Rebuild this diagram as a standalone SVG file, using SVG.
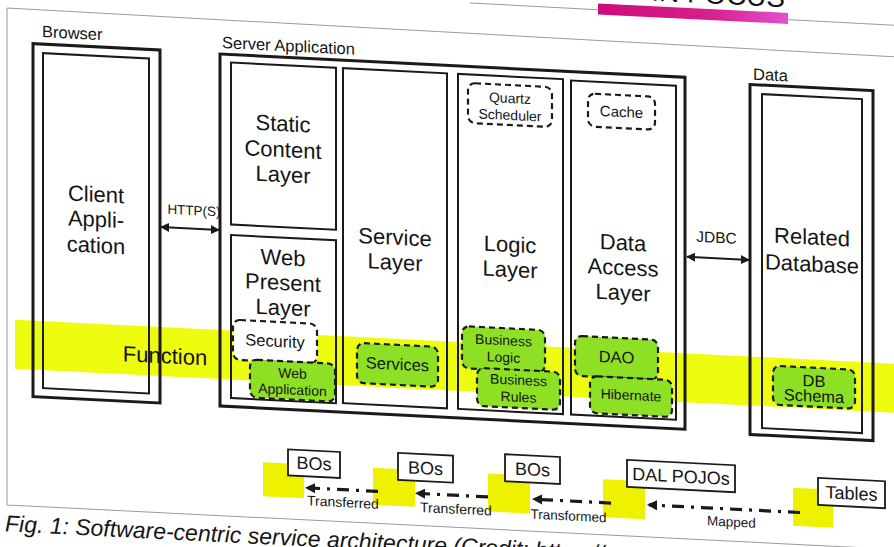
<svg xmlns="http://www.w3.org/2000/svg" width="894" height="547" viewBox="0 0 894 547">
<defs>
<style>
text{font-family:"Liberation Sans",Arial,sans-serif;fill:#151515}
.big{font-size:22px;text-anchor:middle}
.lbl{font-size:16.5px}
.sm{font-size:14px;text-anchor:middle}
.mid{font-size:16.5px;text-anchor:middle}
.outer{fill:none;stroke:#1a1a1a;stroke-width:3}
.inner{fill:none;stroke:#1a1a1a;stroke-width:2}
.dash{stroke:#1a1a1a;stroke-width:2.2;stroke-dasharray:6 4}
.grn{fill:#8ee024}
.wht{fill:#ffffff}
.sq{fill:#eef200}
.tag{fill:#ffffff;stroke:#1a1a1a;stroke-width:1.8}
.tagt{font-size:18px;text-anchor:middle}
.flow{fill:none;stroke:#1a1a1a;stroke-width:3.2;stroke-dasharray:12 7 3 7}
.biarrow{fill:none;stroke:#1a1a1a;stroke-width:2}
.frame{fill:none;stroke:#9a9a9a;stroke-width:1}
</style>
<marker id="ah" viewBox="0 0 10 10" refX="9" refY="5" markerWidth="4.5" markerHeight="4.5" orient="auto-start-reverse" markerUnits="strokeWidth">
<path d="M0,0 L10,5 L0,10 Z" fill="#1a1a1a"/>
</marker>
<marker id="fh" viewBox="0 0 10 10" refX="8" refY="5" markerWidth="3.2" markerHeight="3.2" orient="auto" markerUnits="strokeWidth">
<path d="M0,0 L10,5 L0,10 Z" fill="#1a1a1a"/>
</marker>
<linearGradient id="pink" x1="0" x2="1" y1="0" y2="0">
<stop offset="0" stop-color="#cc0c78"/>
<stop offset="0.6" stop-color="#d8208e"/>
<stop offset="1" stop-color="#e052cf"/>
</linearGradient>
</defs>
<rect x="0" y="0" width="894" height="547" fill="#ffffff"/>
<g transform="matrix(1,0.05,0,1,0,0)">
<!-- page frame and header -->
<g id="page">
<path class="frame" d="M7,7.6 L894,12 M7,7.6 L7,504.6 M7,504.6 L894,504.6"/>
<path class="frame" d="M470,-20.5 L894,-19.5"/>
<rect x="598" y="-26.5" width="190" height="11" fill="url(#pink)"/>
<text x="785" y="-32" style="font-size:28px;text-anchor:end">IN FOCUS</text>
</g>
<!-- function band -->
<g id="function-band">
<rect x="15" y="319" width="890" height="49" fill="#eefc10"/>
<text x="165" y="355" style="font-size:22px;text-anchor:middle">Function</text>
</g>
<!-- Browser -->
<g id="browser">
<text class="lbl" x="42" y="35">Browser</text>
<rect class="outer" x="33" y="42" width="127" height="353"/>
<rect class="inner" x="43" y="51" width="106" height="335"/>
<text class="big" x="96" y="197">Client</text>
<text class="big" x="96" y="222">Appli-</text>
<text class="big" x="96" y="248">cation</text>
</g>
<!-- Server -->
<g id="server">
<text class="lbl" x="222" y="37">Server Application</text>
<rect class="outer" x="220" y="43" width="465" height="352"/>
</g>
<g id="static-content">
<rect class="inner" x="231" y="51" width="105" height="162"/>
<text class="big" x="283" y="117">Static</text>
<text class="big" x="283" y="143">Content</text>
<text class="big" x="283" y="168">Layer</text>
</g>
<g id="web-present">
<rect class="inner" x="231" y="223.5" width="105" height="163"/>
<text class="big" x="283" y="251">Web</text>
<text class="big" x="283" y="276">Present</text>
<text class="big" x="283" y="301">Layer</text>
</g>
<g id="service-layer">
<rect class="inner" x="343" y="51" width="104" height="335"/>
<text class="big" x="395" y="225">Service</text>
<text class="big" x="395" y="250">Layer</text>
</g>
<g id="logic-layer">
<rect class="inner" x="458" y="51" width="105" height="335"/>
<text class="big" x="510" y="226.5">Logic</text>
<text class="big" x="510" y="251.5">Layer</text>
</g>
<g id="data-access">
<rect class="inner" x="571" y="52" width="105" height="334"/>
<text class="big" x="623" y="219">Data</text>
<text class="big" x="623" y="244">Access</text>
<text class="big" x="623" y="269">Layer</text>
</g>
<g id="quartz">
<rect class="dash wht" x="468" y="59.5" width="84" height="40" rx="7"/>
<text class="sm" x="510" y="77.5">Quartz</text>
<text class="sm" x="510" y="94.5">Scheduler</text>
</g>
<g id="cache">
<rect class="dash wht" x="588" y="64" width="67" height="33" rx="7"/>
<text x="621.5" y="86" style="font-size:15px;text-anchor:middle">Cache</text>
</g>
<!-- Data -->
<g id="data">
<text class="lbl" x="753" y="42">Data</text>
<rect class="outer" x="750" y="47" width="123" height="350"/>
<rect class="inner" x="762" y="56" width="100" height="334"/>
<text class="big" x="812" y="204">Related</text>
<text class="big" x="812" y="231">Database</text>
</g>
<!-- function components -->
<g id="security">
<rect class="dash wht" x="233" y="308" width="84" height="40" rx="7"/>
<text class="mid" x="275" y="333">Security</text>
</g>
<g id="web-application">
<rect class="dash grn" x="250" y="347" width="85" height="38" rx="7"/>
<text class="sm" x="292.5" y="363.5">Web</text>
<text class="sm" x="292.5" y="380">Application</text>
</g>
<g id="services">
<rect class="dash grn" x="357" y="325" width="81" height="40" rx="7"/>
<text class="mid" x="397.5" y="350">Services</text>
</g>
<g id="business-logic">
<rect class="dash grn" x="462" y="303" width="83" height="42" rx="7"/>
<text class="sm" x="503.5" y="320">Business</text>
<text class="sm" x="503.5" y="337">Logic</text>
</g>
<g id="business-rules">
<rect class="dash grn" x="477" y="344" width="83" height="38" rx="7"/>
<text class="sm" x="518.5" y="359">Business</text>
<text class="sm" x="518.5" y="376">Rules</text>
</g>
<g id="dao">
<rect class="dash grn" x="575" y="307" width="83" height="40" rx="7"/>
<text class="mid" x="616.5" y="332">DAO</text>
</g>
<g id="hibernate">
<rect class="dash grn" x="590" y="346.5" width="82" height="37" rx="7"/>
<text class="sm" x="631" y="368.5">Hibernate</text>
</g>
<g id="db-schema">
<rect class="dash grn" x="773" y="327" width="82" height="39" rx="7"/>
<text class="mid" x="814" y="346">DB</text>
<text class="mid" x="814" y="361">Schema</text>
</g>
<!-- bottom objects -->
<g id="bos-1">
<rect class="sq" x="263" y="449" width="41" height="34"/>
<rect class="tag" x="288" y="435" width="52" height="26"/>
<text class="tagt" x="314" y="454">BOs</text>
</g>
<g id="bos-2">
<rect class="sq" x="373" y="449" width="42" height="37"/>
<rect class="tag" x="398" y="433" width="55" height="27"/>
<text class="tagt" x="425.5" y="453">BOs</text>
</g>
<g id="bos-3">
<rect class="sq" x="488" y="449" width="42" height="38"/>
<rect class="tag" x="505" y="429" width="55" height="27"/>
<text class="tagt" x="532.5" y="449">BOs</text>
</g>
<g id="dal-pojos">
<rect class="sq" x="603" y="449" width="42" height="38"/>
<rect class="tag" x="627" y="428.5" width="108" height="27"/>
<text class="tagt" x="681" y="448.5">DAL POJOs</text>
</g>
<g id="tables">
<rect class="sq" x="793" y="448" width="40" height="38"/>
<rect class="tag" x="818" y="437" width="67" height="27"/>
<text class="tagt" x="851.5" y="457">Tables</text>
</g>
<!-- connectors -->
<g id="connectors">
<line class="biarrow" x1="161" y1="219" x2="219" y2="219" marker-start="url(#ah)" marker-end="url(#ah)"/>
<text x="194" y="205.5" style="font-size:13.5px;text-anchor:middle">HTTP(S)</text>
<line class="biarrow" x1="687" y1="222.5" x2="749" y2="222.5" marker-start="url(#ah)" marker-end="url(#ah)"/>
<text x="716.5" y="207" style="font-size:15.5px;text-anchor:middle">JDBC</text>
<line class="flow" x1="378" y1="472.5" x2="307" y2="472.5" marker-end="url(#fh)"/>
<text x="343" y="490" style="font-size:14px;text-anchor:middle">Transferred</text>
<line class="flow" x1="488" y1="472.5" x2="417" y2="472.5" marker-end="url(#fh)"/>
<text x="456" y="491" style="font-size:14px;text-anchor:middle">Transferred</text>
<line class="flow" x1="611" y1="472.5" x2="534" y2="472.5" marker-end="url(#fh)"/>
<text x="568.5" y="492" style="font-size:13.5px;text-anchor:middle">Transformed</text>
<line class="flow" x1="800" y1="472.5" x2="649" y2="472.5" marker-end="url(#fh)"/>
<text x="731.5" y="490" style="font-size:13.5px;text-anchor:middle">Mapped</text>
</g>
<!-- caption -->
<text x="5" y="531" style="font-size:23px;font-style:italic">Fig. 1: Software-centric service architecture (Credit: https://</text>
</g>
</svg>
